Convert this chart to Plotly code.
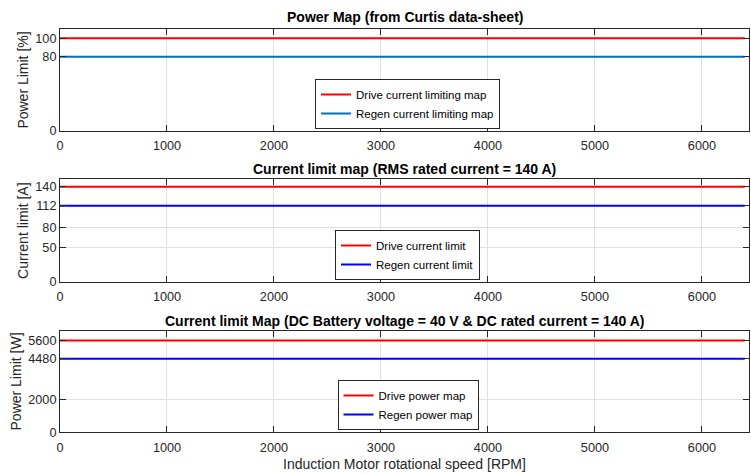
import plotly.graph_objects as go

# ---- data ----
rpm = [0, 6400]
drive_pct = [100, 100]
regen_pct = [80, 80]
drive_current = [140, 140]
regen_current = [112, 112]
drive_power = [5600, 5600]
regen_power = [4480, 4480]

x_ticks = [0, 1000, 2000, 3000, 4000, 5000, 6000]
y1_ticks = [0, 80, 100]
y2_ticks = [0, 50, 80, 112, 140]
y3_ticks = [0, 2000, 4480, 5600]

titles = ["Power Map (from Curtis data-sheet)",
          "Current limit map (RMS rated current = 140 A)",
          "Current limit Map (DC Battery voltage = 40 V & DC rated current = 140 A)"]
y_titles = ["Power Limit [%]", "Current limit [A]", "Power Limit [W]"]
x_title = "Induction Motor rotational speed [RPM]"

FONT = "Liberation Sans, Arial, Helvetica, sans-serif"
AX = "#262626"
GRID = "#e0e0e0"
W, H = 751, 474
ML, MR = 60, 2

fig = go.Figure()
fig.add_trace(go.Scatter(x=rpm, y=drive_pct, mode="lines", name="Drive current limiting map",
                         line=dict(color="#ff0000", width=2), xaxis="x", yaxis="y", legend="legend"))
fig.add_trace(go.Scatter(x=rpm, y=regen_pct, mode="lines", name="Regen current limiting map",
                         line=dict(color="#0072bd", width=2), xaxis="x", yaxis="y", legend="legend"))
fig.add_trace(go.Scatter(x=rpm, y=drive_current, mode="lines", name="Drive current limit",
                         line=dict(color="#ff0000", width=2), xaxis="x2", yaxis="y2", legend="legend2"))
fig.add_trace(go.Scatter(x=rpm, y=regen_current, mode="lines", name="Regen current limit",
                         line=dict(color="#0000ff", width=2), xaxis="x2", yaxis="y2", legend="legend2"))
fig.add_trace(go.Scatter(x=rpm, y=drive_power, mode="lines", name="Drive power map",
                         line=dict(color="#ff0000", width=2), xaxis="x3", yaxis="y3", legend="legend3"))
fig.add_trace(go.Scatter(x=rpm, y=regen_power, mode="lines", name="Regen power map",
                         line=dict(color="#0000ff", width=2), xaxis="x3", yaxis="y3", legend="legend3"))

def py(p):
    return 1 - p / H

def px(p):
    return (p - ML) / (W - ML - MR)

domains = [(131, 29), (282, 179.3), (432.3, 330.7)]
yranges = [[0, 110], [0, 151], [0, 6190]]
yticks = [y1_ticks, y2_ticks, y3_ticks]

common = dict(showline=True, linecolor=AX, linewidth=1, mirror="ticks", ticks="inside",
              ticklen=6, tickwidth=1, tickcolor=AX, showgrid=True, gridcolor=GRID, gridwidth=1,
              zeroline=False, automargin=False, tickfont=dict(family=FONT, size=12.7, color=AX))

layout = dict(width=W, height=H, margin=dict(l=ML, r=MR, t=0, b=0),
              plot_bgcolor="white", paper_bgcolor="white",
              font=dict(family=FONT, color=AX), showlegend=True)

for i in range(3):
    s = "" if i == 0 else str(i + 1)
    layout["xaxis" + s] = dict(common, domain=[0, 1], range=[0, 6440], tickvals=x_ticks,
                               anchor="y" + s, ticklabelstandoff=3)
    layout["yaxis" + s] = dict(common, domain=[py(domains[i][0]), py(domains[i][1])],
                               range=yranges[i], tickvals=yticks[i], anchor="x" + s,
                               title=dict(text=y_titles[i], font=dict(family=FONT, size=14, color=AX),
                                          standoff=3))

layout["xaxis3"]["title"] = dict(text=x_title, font=dict(family=FONT, size=14, color=AX), standoff=5)

leg_common = dict(bgcolor="white", bordercolor=AX, borderwidth=1, xanchor="center", yanchor="bottom",
                  font=dict(family=FONT, size=11.5, color="#000000"), itemwidth=30,
                  tracegroupgap=0)
layout["legend"] = dict(leg_common, x=px(407.5), y=py(129))
layout["legend2"] = dict(leg_common, x=px(407.5), y=py(280))
layout["legend3"] = dict(leg_common, x=px(408), y=py(430))

fig.update_layout(**layout)

title_y = [17, 169, 320.7]
for t, yy in zip(titles, title_y):
    fig.add_annotation(text="<b>" + t + "</b>", xref="paper", yref="paper", x=0.5, y=py(yy),
                       xanchor="center", yanchor="middle", showarrow=False,
                       font=dict(family=FONT, size=14, color="#000000"))

fig.write_html("out.html", config={"displayModeBar": False},
               post_script="document.body.style.margin='0px';document.body.style.overflow='hidden';")
